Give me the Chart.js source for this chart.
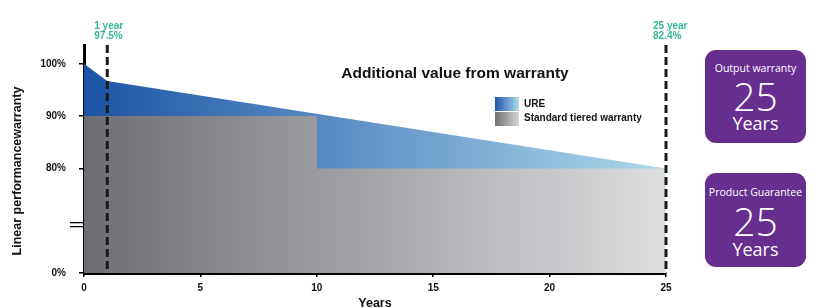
<!DOCTYPE html>
<html>
<head>
<meta charset="utf-8">
<script src="https://cdn.jsdelivr.net/npm/chart.js@4.4.0/dist/chart.umd.min.js"></script>
<style>
  html, body { margin: 0; padding: 0; background: #fff; }
  #wrap { position: relative; width: 816px; height: 308px; overflow: hidden; }
  #chartBox { position: absolute; left: 0; top: 0; width: 700px; height: 308px; }
  .badge { position: absolute; left: 705px; width: 101px; background: #672d8f; border-radius: 11px;
           color: #fff; font-family: "Open Sans", "Noto Sans", sans-serif; }
  .badge div { position: absolute; left: 0; right: 0; text-align: center; white-space: nowrap; }
  .badge .cap { font-size: 10.5px; line-height: 14px; }
  .badge .num { font-size: 39px; line-height: 40px; font-weight: 300; }
  .badge .unit { font-size: 18px; line-height: 20px; }
</style>
</head>
<body>
<div id="wrap">
  <div id="chartBox"><canvas id="chart"></canvas></div>
  <div class="badge" style="top:50px;height:93px">
    <div class="cap" style="top:11px">Output warranty</div>
    <div class="num" style="top:26px">25</div>
    <div class="unit" style="top:63px">Years</div>
  </div>
  <div class="badge" style="top:173px;height:94px">
    <div class="cap" style="top:12px">Product Guarantee</div>
    <div class="num" style="top:28px">25</div>
    <div class="unit" style="top:66px">Years</div>
  </div>
</div>
<script>
// data
const ureYears = [0, 1, 25];
const ureValues = [100, 96.7, 80];
const stdYears = [0, 10, 25];
const stdValues = [90, 80, 80];
const yTickValues = [0, 80, 90, 100];
const xTickStep = 5;
const markerYears = [1, 25];
const markerLabels = ['1 year', '25 year'];
const markerValues = ['97.5%', '82.4%'];
const axisBreakAt = 37; // where the y axis is cut

const FONT = '"Liberation Sans", Arial, sans-serif';

// the axis below 80% is squeezed
function toDisp(v) {
  return v >= 80 ? v : 60 + v * 20 / 80;
}

function gradient(chart, from, to) {
  const { ctx, chartArea } = chart;
  if (!chartArea) return from;
  const g = ctx.createLinearGradient(chartArea.left, 0, chartArea.right, 0);
  g.addColorStop(0, from);
  g.addColorStop(1, to);
  return g;
}

const decorations = {
  id: 'decorations',
  afterDatasetsDraw(chart) {
    const { ctx, chartArea, scales } = chart;
    const x = scales.x, y = scales.y;
    ctx.save();

    // dashed markers
    ctx.strokeStyle = '#1a1a1a';
    ctx.lineWidth = 3;
    ctx.setLineDash([8, 4]);
    markerYears.forEach(yr => {
      const px = x.getPixelForValue(yr);
      ctx.beginPath();
      ctx.moveTo(px, chartArea.top);
      ctx.lineTo(px, chartArea.bottom - 1);
      ctx.stroke();
    });
    ctx.setLineDash([]);

    ctx.fillStyle = '#34b79a';
    ctx.font = 'bold 10px ' + FONT;
    ctx.textAlign = 'left';
    ctx.textBaseline = 'middle';
    markerYears.forEach((yr, i) => {
      const px = x.getPixelForValue(yr) - 13;
      ctx.fillText(markerLabels[i], px, 26);
      ctx.fillText(markerValues[i], px, 36);
    });

    // title
    ctx.fillStyle = '#111';
    ctx.font = 'bold 15.5px ' + FONT;
    ctx.textAlign = 'center';
    ctx.fillText('Additional value from warranty', 455, 74);

    // legend
    const lx = 495, lw = 24;
    ctx.fillStyle = (() => {
      const g = ctx.createLinearGradient(lx, 0, lx + lw, 0);
      g.addColorStop(0, '#1f55a6'); g.addColorStop(1, '#b2dced'); return g;
    })();
    ctx.fillRect(lx, 97, lw, 14);
    ctx.fillStyle = (() => {
      const g = ctx.createLinearGradient(lx, 0, lx + lw, 0);
      g.addColorStop(0, '#6f6f72'); g.addColorStop(1, '#d6d6d8'); return g;
    })();
    ctx.fillRect(lx, 112, lw, 14);
    ctx.fillStyle = '#111';
    ctx.font = 'bold 10px ' + FONT;
    ctx.textAlign = 'left';
    ctx.fillText('URE', 524, 104);
    ctx.fillText('Standard tiered warranty', 524, 118);

    // axis break
    const by = y.getPixelForValue(toDisp(axisBreakAt));
    ctx.strokeStyle = '#000';
    ctx.lineWidth = 1.3;
    [-2, 2].forEach(d => {
      ctx.beginPath();
      ctx.moveTo(70, by + d);
      ctx.lineTo(chartArea.left, by + d);
      ctx.stroke();
    });

    // y title
    ctx.translate(18, 171);
    ctx.rotate(-Math.PI / 2);
    ctx.textAlign = 'center';
    ctx.font = 'bold 12.5px ' + FONT;
    ctx.fillText('Linear performancewarranty', 0, 0);
    ctx.restore();
  }
};

new Chart(document.getElementById('chart'), {
  type: 'line',
  data: {
    datasets: [
      {
        label: 'Standard tiered warranty',
        data: stdYears.map((yr, i) => ({ x: yr, y: toDisp(stdValues[i]) })),
        stepped: 'before',
        fill: 'start',
        borderWidth: 0,
        pointRadius: 0,
        backgroundColor: c => gradient(c.chart, '#6e6e72', '#dddee0')
      },
      {
        label: 'URE',
        data: ureYears.map((yr, i) => ({ x: yr, y: toDisp(ureValues[i]) })),
        fill: 'start',
        borderWidth: 0,
        pointRadius: 0,
        tension: 0,
        backgroundColor: c => gradient(c.chart, '#1b54a6', '#add8e9')
      }
    ]
  },
  options: {
    responsive: true,
    maintainAspectRatio: false,
    animation: false,
    layout: { padding: { top: 45, right: 34, left: 0, bottom: 0 } },
    plugins: { legend: { display: false }, tooltip: { enabled: false } },
    scales: {
      x: {
        type: 'linear',
        min: 0,
        max: 25,
        afterFit: s => { s.height = 35; s.paddingRight = 0; },
        ticks: { stepSize: xTickStep, padding: 5, color: '#111', font: { family: FONT, size: 10, weight: 'bold' } },
        grid: { drawOnChartArea: false, drawTicks: true, tickLength: 4, color: '#000', lineWidth: 1.5 },
        border: { display: true, color: '#000', width: 3 },
        title: { display: true, text: 'Years', color: '#111', padding: { top: 0, bottom: -3 },
                 font: { family: FONT, size: 12.5, weight: 'bold' } }
      },
      y: {
        type: 'linear',
        min: 60,
        max: 103.6,
        afterFit: s => { s.width = 84; },
        afterBuildTicks: s => { s.ticks = yTickValues.map(v => ({ value: toDisp(v) })); },
        ticks: {
          padding: 13,
          color: '#111',
          font: { family: FONT, size: 10, weight: 'bold' },
          callback: v => {
            const i = yTickValues.findIndex(t => Math.abs(toDisp(t) - v) < 0.01);
            return i < 0 ? '' : yTickValues[i] + '%';
          }
        },
        grid: { drawOnChartArea: false, drawTicks: true, tickLength: 5, color: '#000', lineWidth: 1.5 },
        border: { display: true, color: '#000', width: 3 }
      }
    }
  },
  plugins: [decorations]
});
</script>
</body>
</html>
